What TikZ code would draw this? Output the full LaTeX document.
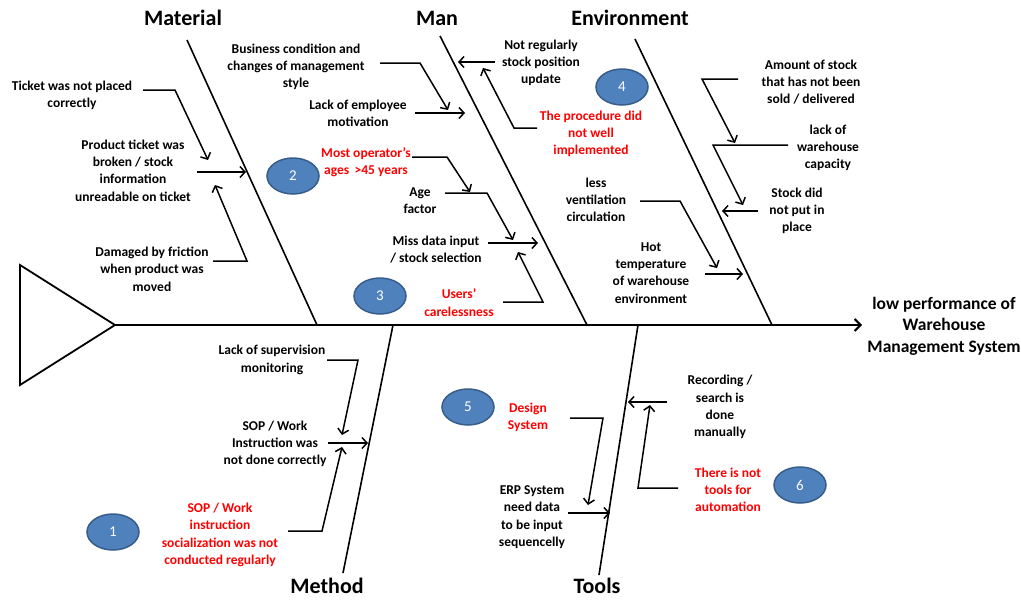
\documentclass[tikz,border=0pt]{standalone}
\usepackage{fontspec}
\setmainfont{Carlito}
\usetikzlibrary{arrows.meta,shapes.geometric}
\definecolor{numfill}{HTML}{4F81BD}
\definecolor{numedge}{HTML}{385D8A}
\begin{document}
\begin{tikzpicture}[x=1pt,y=-1pt,
  lbl/.style={font=\fontsize{13.5}{17.3}\selectfont\bfseries, align=center, inner sep=0pt},
  redlbl/.style={lbl, text=red},
  cat/.style={font=\fontsize{22}{26}\selectfont\bfseries, inner sep=0pt},
  bone/.style={line width=1.6pt},
  arr/.style={line width=1.5pt, -{Straight Barb[length=5pt,width=11pt]}},
  num/.style={ellipse, draw=numedge, line width=1.5pt, fill=numfill, minimum width=52pt, minimum height=36pt, inner sep=0pt, text=white, font=\fontsize{15}{17}\selectfont}
]
\useasboundingbox (0,0) rectangle (1021,600);

% head and spine
\coordinate (tA) at (20,265);
\coordinate (tB) at (115,325);
\coordinate (tC) at (20,385);
\draw[line width=1.8pt] (tA) -- (tB) -- (tC) -- cycle;
\coordinate (spineEnd) at (862,325);
\draw[line width=2pt, -{Straight Barb[length=6pt,width=12pt]}] (tB) -- (spineEnd);
\node[font=\fontsize{17.5}{21.5}\selectfont\bfseries, align=center, inner sep=0pt] (effect) at (944,326) {low performance of\\Warehouse\\Management System};

% bones
\coordinate (matTop) at (187,40);  \coordinate (matBot) at (317,325);
\coordinate (manTop) at (440,36);  \coordinate (manBot) at (587,325);
\coordinate (envTop) at (635,39);  \coordinate (envBot) at (772,325);
\coordinate (metTop) at (393,325); \coordinate (metBot) at (343,573);
\coordinate (tooTop) at (638,325); \coordinate (tooBot) at (599,575);
\draw[bone] (matTop) -- (matBot);
\draw[bone] (manTop) -- (manBot);
\draw[bone] (envTop) -- (envBot);
\draw[bone] (metTop) -- (metBot);
\draw[bone] (tooTop) -- (tooBot);

\node[cat] (matL) at (183,18) {Material};
\node[cat] (manL) at (437,18) {Man};
\node[cat] (envL) at (630,18) {Environment};
\node[cat] (metL) at (327,586) {Method};
\node[cat] (tooL) at (597,586) {Tools};

% number ellipses
\node[num] (n1) at (113,532) {1};
\node[num] (n2) at (293,176) {2};
\node[num] (n3) at (380,296) {3};
\node[num] (n4) at (622,87) {4};
\node[num] (n5) at (468,407) {5};
\node[num] (n6) at (800,485) {6};

% ---------------- Material
\node[lbl] (m1) at (72,95.5) {Ticket was not placed\\correctly};
\node[lbl] (m2) at (133,170.5) {Product ticket was\\broken / stock\\information\\unreadable on ticket};
\node[lbl] (m3) at (152,269) {Damaged by friction\\when product was\\moved};
\coordinate (m1a) at (143,90); \coordinate (m1b) at (175,90); \coordinate (m1c) at (208,160);
\draw[arr] (m1a) -- (m1b) -- (m1c);
\coordinate (m2a) at (197,172); \coordinate (m2b) at (246,172);
\draw[arr] (m2a) -- (m2b);
\coordinate (m3a) at (213,261); \coordinate (m3b) at (247,261); \coordinate (m3c) at (215,185);
\draw[arr] (m3a) -- (m3b) -- (m3c);

% ---------------- Man
\node[lbl] (h1) at (296,67) {Business condition and\\changes of management\\style};
\node[lbl] (h2) at (358,113) {Lack of employee\\motivation};
\node[redlbl] (h3) at (366,162.5) {Most operator's\\ages \,>45 years};
\node[lbl] (h4) at (420,200.5) {Age\\factor};
\node[lbl] (h5) at (436,249.5) {Miss data input\\/ stock selection};
\node[redlbl] (h6) at (459,302.5) {Users'\\carelessness};
\node[lbl] (h7) at (541,63) {Not regularly\\stock position\\update};
\node[redlbl] (h8) at (591,134) {The procedure did\\not well\\implemented};
\coordinate (h1a) at (380,63); \coordinate (h1b) at (420,63); \coordinate (h1c) at (448,110);
\draw[arr] (h1a) -- (h1b) -- (h1c);
\coordinate (h2a) at (415,113); \coordinate (h2b) at (465,113);
\draw[arr] (h2a) -- (h2b);
\coordinate (h3a) at (412,157); \coordinate (h3b) at (447,157); \coordinate (h3c) at (470,192);
\draw[arr] (h3a) -- (h3b) -- (h3c);
\coordinate (h4a) at (445,193); \coordinate (h4b) at (487,193); \coordinate (h4c) at (513,240);
\draw[arr] (h4a) -- (h4b) -- (h4c);
\coordinate (h5a) at (488,243); \coordinate (h5b) at (538,243);
\draw[arr] (h5a) -- (h5b);
\coordinate (h6a) at (503,302); \coordinate (h6b) at (543,302); \coordinate (h6c) at (518,252);
\draw[arr] (h6a) -- (h6b) -- (h6c);
\coordinate (h7a) at (495,62); \coordinate (h7b) at (458,62);
\draw[arr] (h7a) -- (h7b);
\coordinate (h8a) at (537,128); \coordinate (h8b) at (514,128); \coordinate (h8c) at (483,68);
\draw[arr] (h8a) -- (h8b) -- (h8c);

% ---------------- Environment
\node[lbl] (e1) at (811,82) {Amount of stock\\that has not been\\sold / delivered};
\node[lbl] (e2) at (828,148) {lack of\\warehouse\\capacity};
\node[lbl] (e3) at (797,211) {Stock did\\not put in\\place};
\node[lbl] (e4) at (596,200) {less\\ventilation\\circulation};
\node[lbl] (e5) at (651,273) {Hot\\temperature\\of warehouse\\environment};
\coordinate (e1a) at (738,79); \coordinate (e1b) at (702,79); \coordinate (e1c) at (735,143);
\draw[arr] (e1a) -- (e1b) -- (e1c);
\coordinate (e2a) at (788,145); \coordinate (e2b) at (713,145); \coordinate (e2c) at (743,205);
\draw[arr] (e2a) -- (e2b) -- (e2c);
\coordinate (e3a) at (758,211); \coordinate (e3b) at (722,211);
\draw[arr] (e3a) -- (e3b);
\coordinate (e4a) at (640,201); \coordinate (e4b) at (680,201); \coordinate (e4c) at (717,268);
\draw[arr] (e4a) -- (e4b) -- (e4c);
\coordinate (e5a) at (705,274); \coordinate (e5b) at (743,274);
\draw[arr] (e5a) -- (e5b);

% ---------------- Method
\node[lbl] (w1) at (272,360) {Lack of supervision\\monitoring};
\node[lbl] (w2) at (275,444) {SOP / Work\\Instruction was\\not done correctly};
\node[redlbl] (w3) at (220,535) {SOP / Work\\instruction\\socialization was not\\conducted regularly};
\coordinate (w1a) at (327,360); \coordinate (w1b) at (358,360); \coordinate (w1c) at (342,435);
\draw[arr] (w1a) -- (w1b) -- (w1c);
\coordinate (w2a) at (328,443); \coordinate (w2b) at (368,443);
\draw[arr] (w2a) -- (w2b);
\coordinate (w3a) at (288,531); \coordinate (w3b) at (322,531); \coordinate (w3c) at (342,447);
\draw[arr] (w3a) -- (w3b) -- (w3c);

% ---------------- Tools
\node[redlbl] (t1) at (528,417) {Design\\System};
\node[lbl] (t2) at (532,517) {ERP System\\need data\\to be input\\sequencelly};
\node[lbl] (t3) at (720,407) {Recording /\\search is\\done\\manually};
\node[redlbl] (t4) at (728,490) {There is not\\tools for\\automation};
\coordinate (t1a) at (570,418); \coordinate (t1b) at (603,418); \coordinate (t1c) at (588,505);
\draw[arr] (t1a) -- (t1b) -- (t1c);
\coordinate (t2a) at (568,513); \coordinate (t2b) at (610,513);
\draw[arr] (t2a) -- (t2b);
\coordinate (t3a) at (667,402); \coordinate (t3b) at (628,402);
\draw[arr] (t3a) -- (t3b);
\coordinate (t4a) at (678,488); \coordinate (t4b) at (638,488); \coordinate (t4c) at (650,405);
\draw[arr] (t4a) -- (t4b) -- (t4c);

\end{tikzpicture}
\end{document}
